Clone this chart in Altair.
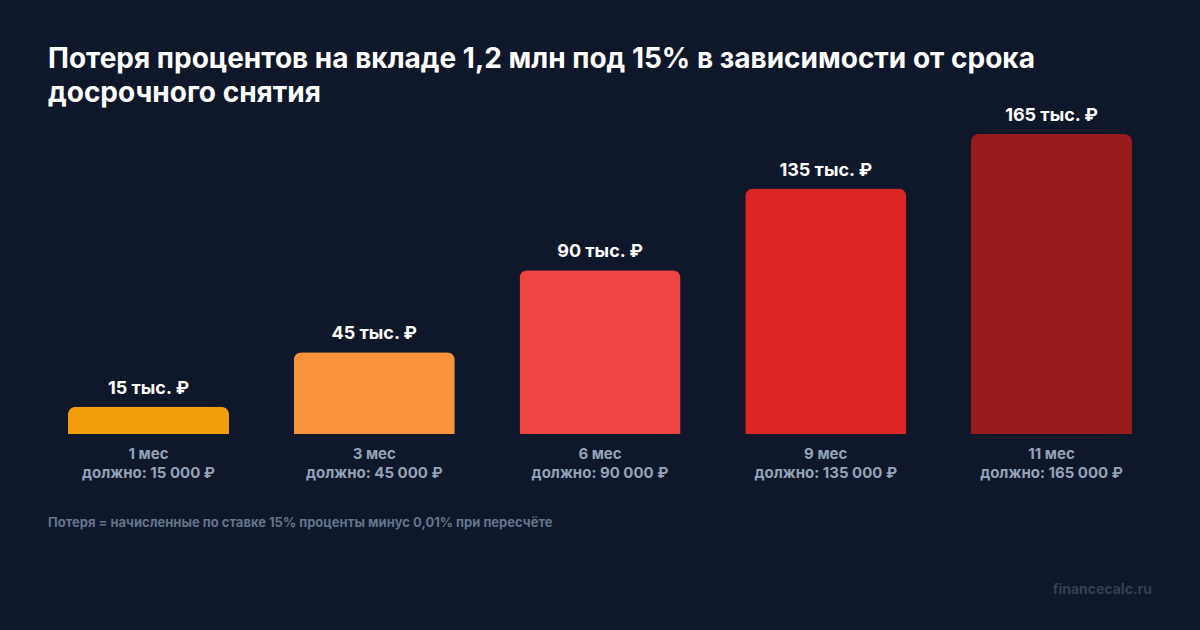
import altair as alt
import pandas as pd

periods = ["1 мес", "3 мес", "6 мес", "9 мес", "11 мес"]
losses = [15, 45, 90, 135, 165]
value_labels = ["15 тыс. ₽", "45 тыс. ₽", "90 тыс. ₽", "135 тыс. ₽", "165 тыс. ₽"]
due_labels = ["должно: 15 000 ₽", "должно: 45 000 ₽", "должно: 90 000 ₽",
              "должно: 135 000 ₽", "должно: 165 000 ₽"]
colors = ["#f59e0b", "#fb923c", "#ef4444", "#dc2626", "#991b1b"]

title_lines = ["Потеря процентов на вкладе 1,2 млн под 15% в зависимости от срока",
               "досрочного снятия"]
footnote = "Потеря = начисленные по ставке 15% проценты минус 0,01% при пересчёте"
watermark = "financecalc.ru"

df = pd.DataFrame({"period": periods, "loss": losses, "label": value_labels,
                   "due": due_labels, "zero": [0] * len(periods)})

FONT = "Inter"

x = alt.X("period:N", sort=periods, axis=None,
          scale=alt.Scale(paddingInner=0.2868, paddingOuter=0.0886))
y = alt.Y("loss:Q", axis=None, scale=alt.Scale(domain=[0, 165], nice=False))

bars = alt.Chart(df).mark_bar(cornerRadiusTopLeft=8, cornerRadiusTopRight=8).encode(
    x=x, y=y,
    color=alt.Color("period:N", sort=periods,
                    scale=alt.Scale(domain=periods, range=colors), legend=None),
)

top_text = alt.Chart(df).mark_text(font=FONT, fontSize=18, fontWeight="bold",
                                   color="#ffffff", baseline="middle", dy=-18).encode(
    x=x, y=y, text="label:N")

period_text = alt.Chart(df).mark_text(font=FONT, fontSize=15, fontWeight="bold",
                                      color="#94a3b8", baseline="middle", dy=20).encode(
    x=x, y=alt.Y("zero:Q"), text="period:N")

due_text = alt.Chart(df).mark_text(font=FONT, fontSize=15, fontWeight="bold",
                                   color="#94a3b8", baseline="middle", dy=39).encode(
    x=x, y=alt.Y("zero:Q"), text="due:N")

foot = alt.Chart(pd.DataFrame({"t": [footnote]})).mark_text(
    font=FONT, fontSize=13, fontWeight="bold", color="#64748b",
    align="left", baseline="middle").encode(
    x=alt.value(0), y=alt.value(389), text="t:N")

wm = alt.Chart(pd.DataFrame({"t": [watermark]})).mark_text(
    font=FONT, fontSize=14, fontWeight="bold", color="#334155",
    align="right", baseline="middle").encode(
    x=alt.value(1104), y=alt.value(456), text="t:N")

chart = alt.layer(bars, top_text, period_text, due_text, foot, wm).properties(
    width=1104, height=300,
    background="#0f172a",
    autosize=alt.AutoSizeParams(type="none"),
    padding={"left": 48, "top": 134, "right": 48, "bottom": 196},
    title=alt.TitleParams(title_lines, anchor="start", frame="group",
                          font=FONT, fontSize=28, fontWeight="bold",
                          color="#ffffff", lineHeight=34, offset=-1),
).configure_view(stroke=None)

chart.save("out.html", embed_options={"renderer": "svg", "actions": False})
